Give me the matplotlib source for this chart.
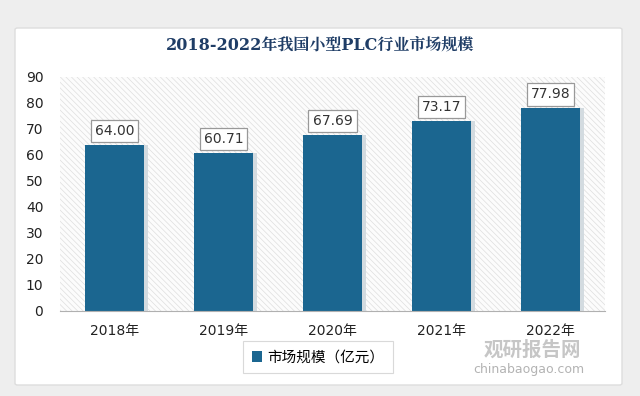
import matplotlib
matplotlib.use('Agg')
import matplotlib.pyplot as plt
from matplotlib.patches import FancyBboxPatch, Rectangle

plt.rcParams['font.family'] = ['DejaVu Sans', 'Noto Sans CJK SC']
plt.rcParams['hatch.linewidth'] = 0.5

years = ['2018年', '2019年', '2020年', '2021年', '2022年']
market = [64.00, 60.71, 67.69, 73.17, 77.98]
yticks = [0, 10, 20, 30, 40, 50, 60, 70, 80, 90]

bar_color = '#1b6690'
title_color = '#1f3d66'

fig = plt.figure(figsize=(6.4, 3.96), dpi=100)
fig.patch.set_facecolor('#eeeeee')

# white card behind everything
card = FancyBboxPatch((15 / 640, 11 / 396), 607 / 640, 357 / 396,
                      boxstyle='round,pad=0,rounding_size=0.004',
                      transform=fig.transFigure, facecolor='white',
                      edgecolor='#dddddd', linewidth=1.0, zorder=-10)
fig.add_artist(card)

ax = fig.add_axes([60 / 640, 1 - 311 / 396, 545 / 640, 234 / 396])
ax.set_facecolor('none')

# hatched plot background
bg = Rectangle((0, 0), 1, 1, transform=ax.transAxes, facecolor='#fcfcfc',
               edgecolor='#dedede', hatch='\\\\\\\\\\\\', linewidth=0, zorder=0)
ax.add_patch(bg)

x = range(len(years))
# slight shadow to the right of each bar
ax.bar([i + 0.03 for i in x], market, width=0.55, color='#d3dbe0', zorder=1)
bars = ax.bar(x, market, width=0.55, color=bar_color, zorder=2,
              label='市场规模（亿元）')

for i, v in enumerate(market):
    ax.annotate(f'{v:.2f}', (i, v), xytext=(0, 10), textcoords='offset points',
                ha='center', va='center', fontsize=10, color='#333333',
                bbox=dict(boxstyle='square,pad=0.3', facecolor='white',
                          edgecolor='#999999', linewidth=0.9), zorder=3)

ax.set_xlim(-0.5, len(years) - 0.5)
ax.set_ylim(0, 90)
ax.set_yticks(yticks)
ax.set_xticks(list(x))
ax.set_xticklabels(years)
ax.tick_params(axis='both', length=0, labelsize=10, colors='#222222')
ax.tick_params(axis='x', pad=9)
ax.tick_params(axis='y', pad=12)
for s in ['top', 'right', 'left']:
    ax.spines[s].set_visible(False)
ax.spines['bottom'].set_color('#b0b0b0')

fig.text(0.5, 1 - 45 / 396, '2018-2022年我国小型PLC行业市场规模',
         ha='center', va='center', fontsize=11.5, fontweight='bold',
         color=title_color, family=['DejaVu Serif', 'Noto Serif CJK SC', 'Noto Sans CJK SC'])

leg = fig.legend(handles=[bars], labels=['市场规模（亿元）'],
                 loc='center', bbox_to_anchor=(318 / 640, 1 - 357 / 396),
                 fontsize=10.5, frameon=True, fancybox=False,
                 handlelength=0.7, handleheight=0.7, handletextpad=0.3,
                 borderpad=0.6)
leg.get_frame().set_edgecolor('#d0d0d0')
leg.get_frame().set_linewidth(0.8)

# watermark
fig.text(532 / 640, 1 - 350 / 396, '观研报告网', ha='center', va='center',
         fontsize=14, fontweight='bold', color='#b8b8b8', alpha=0.8)
fig.text(529 / 640, 1 - 369 / 396, 'chinabaogao.com', ha='center', va='center',
         fontsize=9, color='#a0a0a0', alpha=0.8)

fig.savefig('out.png', dpi=100, facecolor=fig.get_facecolor())
